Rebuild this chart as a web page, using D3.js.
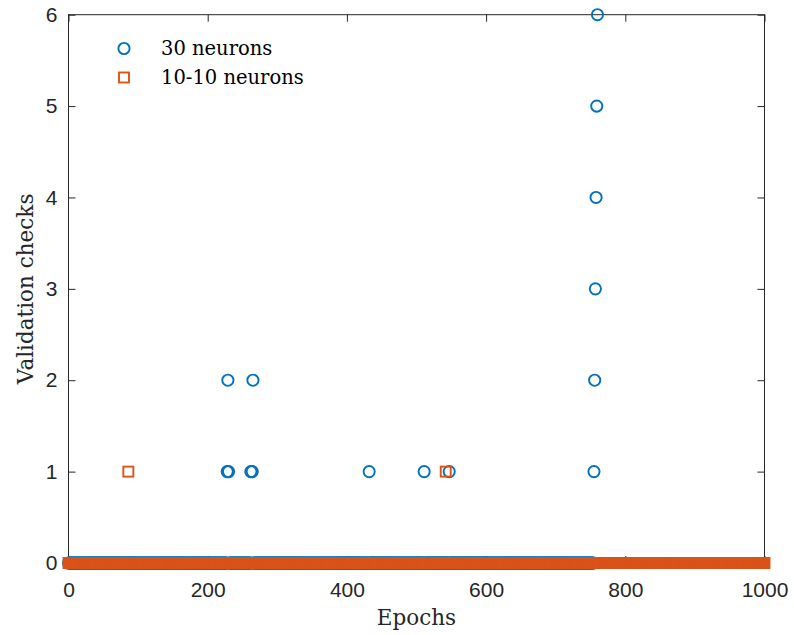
<!DOCTYPE html>
<html>
<head>
<meta charset="utf-8">
<script src="https://cdn.jsdelivr.net/npm/d3@7"></script>
<style>
  body { margin: 0; background: #fff; }
  svg { display: block; }
</style>
</head>
<body>
<svg id="chart"></svg>
<script>
// validation checks per epoch: each run is 0 everywhere except the epochs listed
const lastEpoch30 = 760;
const nonzero30 = [
  [228, 1], [229, 2], [230, 1],
  [262, 1], [264, 1], [265, 2],
  [432, 1], [511, 1], [547, 1],
  [755, 1], [756, 2], [757, 3], [758, 4], [759, 5], [760, 6]
];
const lastEpoch1010 = 1000;
const nonzero1010 = [[86, 1], [542, 1]];

const seriesNames = ["30 neurons", "10-10 neurons"];
const xTicks = [0, 200, 400, 600, 800, 1000];
const yTicks = [0, 1, 2, 3, 4, 5, 6];

function buildSeries(last, nonzero) {
  const lookup = new Map(nonzero);
  return d3.range(0, last + 1).map(e => ({ epoch: e, checks: lookup.get(e) || 0 }));
}
const data30 = buildSeries(lastEpoch30, nonzero30);
const data1010 = buildSeries(lastEpoch1010, nonzero1010);

const W = 794, H = 635;
const margin = { top: 14.7, right: 29.5, bottom: 72, left: 68.5 },
  width = W - margin.left - margin.right,
  height = H - margin.top - margin.bottom;

const blue = "#0072BD", orange = "#D95319", axisColor = "#262626";

const svg = d3.select("#chart").attr("width", W).attr("height", H);
const g = svg.append("g").attr("transform", `translate(${margin.left},${margin.top})`);

const x = d3.scaleLinear().domain([0, 1000]).range([0, width]);
const y = d3.scaleLinear().domain([0, 6]).range([height, 0]);

// axes (MATLAB style: inward ticks, box on)
const tickFont = "'Liberation Sans', Arial, Helvetica, sans-serif";
function styleAxis(sel, labels) {
  sel.select(".domain").remove();
  sel.selectAll("line").attr("stroke", axisColor);
  sel.selectAll("text")
    .attr("fill", axisColor)
    .style("font-family", tickFont)
    .style("font-size", "21px")
    .style("display", labels ? null : "none");
}
g.append("g").attr("transform", `translate(0,${height})`)
  .call(d3.axisBottom(x).tickValues(xTicks).tickSize(-7).tickPadding(19).tickFormat(d3.format("d")))
  .call(s => styleAxis(s, true));
g.append("g")
  .call(d3.axisTop(x).tickValues(xTicks).tickSize(-7))
  .call(s => styleAxis(s, false));
g.append("g")
  .call(d3.axisLeft(y).tickValues(yTicks).tickSize(-7).tickPadding(11).tickFormat(d3.format("d")))
  .call(s => styleAxis(s, true));
g.append("g").attr("transform", `translate(${width},0)`)
  .call(d3.axisRight(y).tickValues(yTicks).tickSize(-7))
  .call(s => styleAxis(s, false));

g.append("rect")
  .attr("x", 0).attr("y", 0)
  .attr("width", width).attr("height", height)
  .attr("fill", "none")
  .attr("stroke", axisColor)
  .attr("stroke-width", 1);

// markers
const r = 5.6, sq = 10, mw = 1.9;
g.append("g").selectAll("circle")
  .data(data30)
  .join("circle")
  .attr("cx", d => x(d.epoch))
  .attr("cy", d => y(d.checks))
  .attr("r", r)
  .attr("fill", "none")
  .attr("stroke", blue)
  .attr("stroke-width", mw);

g.append("g").selectAll("rect")
  .data(data1010)
  .join("rect")
  .attr("x", d => x(d.epoch) - sq / 2)
  .attr("y", d => y(d.checks) - sq / 2)
  .attr("width", sq)
  .attr("height", sq)
  .attr("fill", "none")
  .attr("stroke", orange)
  .attr("stroke-width", mw);

// axis labels
const serif = "'DejaVu Serif', 'Liberation Serif', serif";
svg.append("text")
  .attr("x", margin.left + width / 2)
  .attr("y", 625)
  .attr("text-anchor", "middle")
  .attr("fill", axisColor)
  .style("font-family", serif)
  .style("font-size", "21.5px")
  .text("Epochs");
svg.append("text")
  .attr("transform", `translate(33,${margin.top + height / 2}) rotate(-90)`)
  .attr("text-anchor", "middle")
  .attr("fill", axisColor)
  .style("font-family", serif)
  .style("font-size", "21.5px")
  .text("Validation checks");

// legend
const legend = svg.append("g");
seriesNames.forEach((name, i) => {
  const cy = 48.5 + i * 29;
  if (i === 0) {
    legend.append("circle").attr("cx", 124).attr("cy", cy).attr("r", r)
      .attr("fill", "none").attr("stroke", blue).attr("stroke-width", mw);
  } else {
    legend.append("rect").attr("x", 124 - sq / 2).attr("y", cy - sq / 2)
      .attr("width", sq).attr("height", sq)
      .attr("fill", "none").attr("stroke", orange).attr("stroke-width", mw);
  }
  legend.append("text")
    .attr("x", 161)
    .attr("y", cy + 6.5)
    .attr("fill", "#000")
    .style("font-family", serif)
    .style("font-size", "19.5px")
    .text(name);
});
</script>
</body>
</html>
